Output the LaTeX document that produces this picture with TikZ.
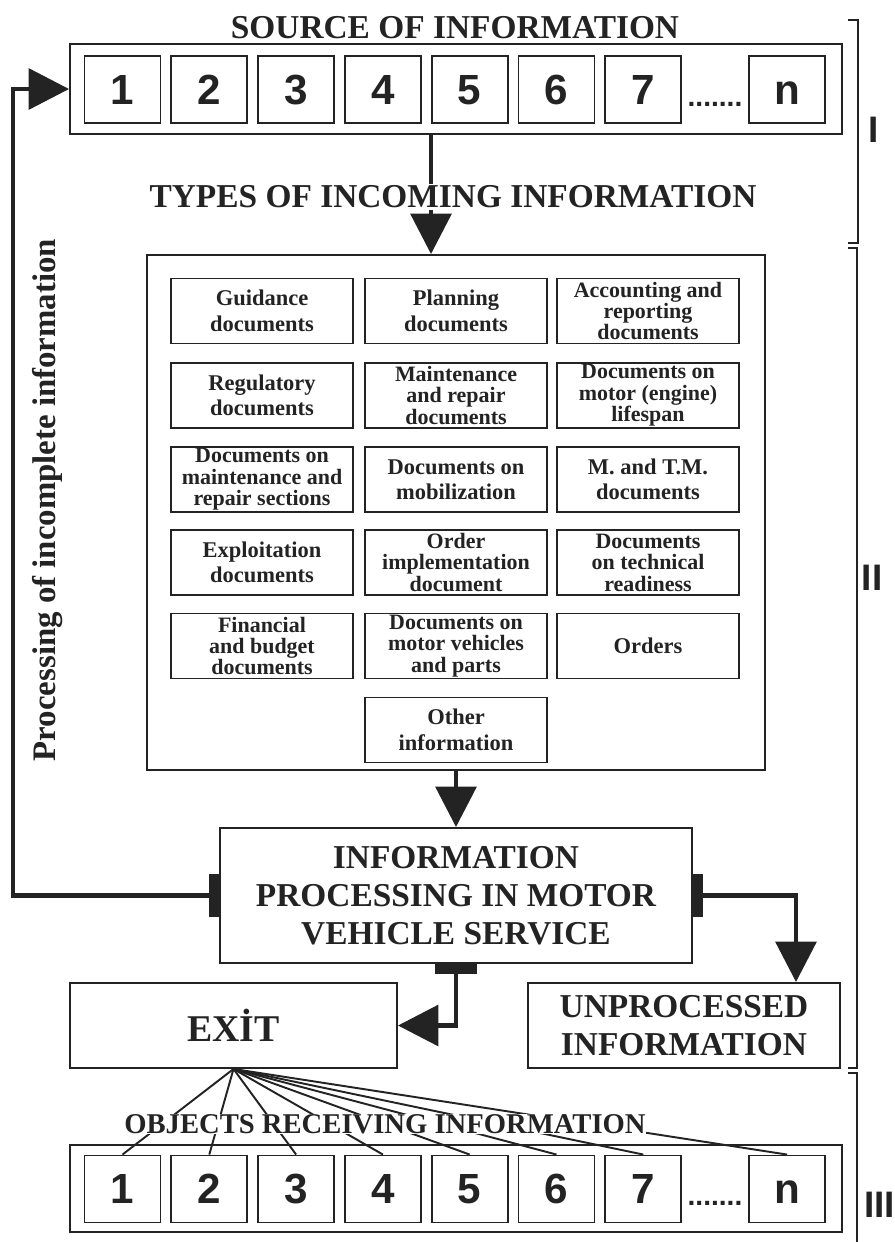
\documentclass[tikz,border=0pt]{standalone}
\usepackage{fontspec}
\setmainfont{Liberation Serif}
\newfontfamily\numfont{Liberation Sans}
\usetikzlibrary{arrows.meta,positioning}
\definecolor{ink}{RGB}{35,35,35}
\tikzset{
  box/.style={draw=ink,line width=1.1pt,inner sep=0pt,align=center,text=ink},
  numbox/.style={box,minimum width=1.52cm,minimum height=1.34cm,text height=17pt,text depth=0pt,font=\numfont\bfseries\fontsize{24}{24}\selectfont},
  docbox/.style={box,minimum width=3.64cm,minimum height=1.3cm,font=\bfseries\fontsize{12.5}{12.2}\selectfont},
  docboxw/.style={docbox,font=\bfseries\fontsize{12.8}{14.5}\selectfont},
  head/.style={align=center,text=ink,inner sep=1pt,font=\bfseries\fontsize{19}{21.5}\selectfont},
  roman/.style={text=ink,inner sep=0pt,font=\numfont\bfseries\fontsize{21}{21}\selectfont},
  flow/.style={draw=ink,line width=2.8pt,-{Triangle[length=23pt,width=23pt]}},
  barflow/.style={flow,{Rectangle[length=5.7pt,width=24pt]}-{Triangle[length=23pt,width=23pt]}},
  fan/.style={draw=ink,line width=1.1pt},
  brk/.style={draw=ink,line width=1.1pt}
}

\begin{document}
\begin{tikzpicture}[x=0.02cm,y=-0.02cm]
  \useasboundingbox (0,0) rectangle (895,1242);
  \node[head] (title) at (455,28) {SOURCE OF INFORMATION};
  \node[box,minimum width=15.44cm,minimum height=1.8cm] (src) at (456,89) {};
  \foreach \i in {1,...,7}
    \node[numbox] (s\i) at ({122.5+86.8*(\i-1)},89.5) {\i};
  \node[numbox] (sn) at (787,89.5) {n};
  \node[text=ink,anchor=base,inner sep=0pt,font=\numfont\bfseries\fontsize{16}{16}\selectfont] (sdots) at (715,106) {.......};

  \node[box,minimum width=12.36cm,minimum height=10.3cm] (docs) at (456,512.5) {};
  \coordinate (topx) at (431,0);
  \draw[flow] (src.south -| topx) -- (docs.north -| topx);
  \node[head,fill=white] (types) at (453,197) {TYPES OF INCOMING INFORMATION};

  \node[docboxw] (guid) at (262,311) {Guidance\\documents};
  \node[docboxw] (plan) at (456,311) {Planning\\documents};
  \node[docbox] (acct) at (648,311) {Accounting and\\reporting\\documents};
  \node[docboxw] (regul) at (262,395.5) {Regulatory\\documents};
  \node[docbox] (mrdoc) at (456,395.5) {Maintenance\\and repair\\documents};
  \node[docbox] (motor) at (648,395.5) {Documents on\\motor (engine)\\lifespan};
  \node[docbox] (mrsec) at (262,479.5) {Documents on\\maintenance and\\repair sections};
  \node[docboxw] (mobil) at (456,479.5) {Documents on\\mobilization};
  \node[docboxw] (mtm) at (648,479.5) {M. and T.M.\\documents};
  \node[docboxw] (expl) at (262,562.5) {Exploitation\\documents};
  \node[docbox] (ordimp) at (456,562.5) {Order\\implementation\\document};
  \node[docbox] (techr) at (648,562.5) {Documents\\on technical\\readiness};
  \node[docbox] (fin) at (262,646) {Financial\\and budget\\documents};
  \node[docbox] (vehic) at (456,646) {Documents on\\motor vehicles\\and parts};
  \node[docboxw] (orders) at (648,646) {Orders};
  \node[docboxw] (other) at (456,730) {Other\\information};

  \node[box,head,minimum width=9.44cm,minimum height=2.7cm] (proc) at (456,895.5) {INFORMATION\\PROCESSING IN MOTOR\\VEHICLE SERVICE};
  \draw[flow] (docs.south) -- (proc.north);

  \node[box,minimum width=6.54cm,minimum height=1.7cm,font=\bfseries\fontsize{21.5}{21.5}\selectfont] (exit) at (233.5,1025.5) {EXİT};
  \node[box,head,minimum width=6.24cm,minimum height=1.7cm] (unproc) at (684,1025.5) {UNPROCESSED\\INFORMATION};

  \coordinate (lx) at (13,0);
  \coordinate (rx) at (796,0);
  \draw[barflow] (proc.west) -- (proc.west -| lx) |- (src.west);
  \draw[barflow] (proc.east) -| (unproc.north -| rx);
  \draw[barflow] (proc.south) |- (exit.east);

  \node[rotate=90,text=ink,inner sep=0pt,font=\bfseries\fontsize{18.7}{18.7}\selectfont] (vlabel) at (48,500) {Processing of incomplete information};

  \node[box,minimum width=15.44cm,minimum height=1.74cm] (dst) at (456,1188.5) {};
  \foreach \i in {1,...,7}
    \node[numbox] (d\i) at ({122.5+86.8*(\i-1)},1189) {\i};
  \node[numbox] (dn) at (787,1189) {n};
  \node[text=ink,anchor=base,inner sep=0pt,font=\numfont\bfseries\fontsize{16}{16}\selectfont] (ddots) at (715,1205.5) {.......};
  \foreach \i in {1,...,7,n}
    \draw[fan] (exit.south) -- (d\i.north);
  \node[head,fill=white,inner sep=0pt,font=\bfseries\fontsize{16.3}{16.3}\selectfont] (objs) at (385,1124) {OBJECTS RECEIVING INFORMATION};

  \draw[brk] (848,20) -- (858,20) -- (858,243) -- (848,243);
  \draw[brk] (848,248) -- (857,248) -- (857,1068) -- (848,1068);
  \draw[brk] (848,1073) -- (857,1073) -- (857,1242);
  \node[roman] (rI) at (874,130) {I};
  \node[roman] (rII) at (872,578) {II};
  \node[roman,anchor=west] (rIII) at (864,1205) {III};
\end{tikzpicture}
\end{document}
